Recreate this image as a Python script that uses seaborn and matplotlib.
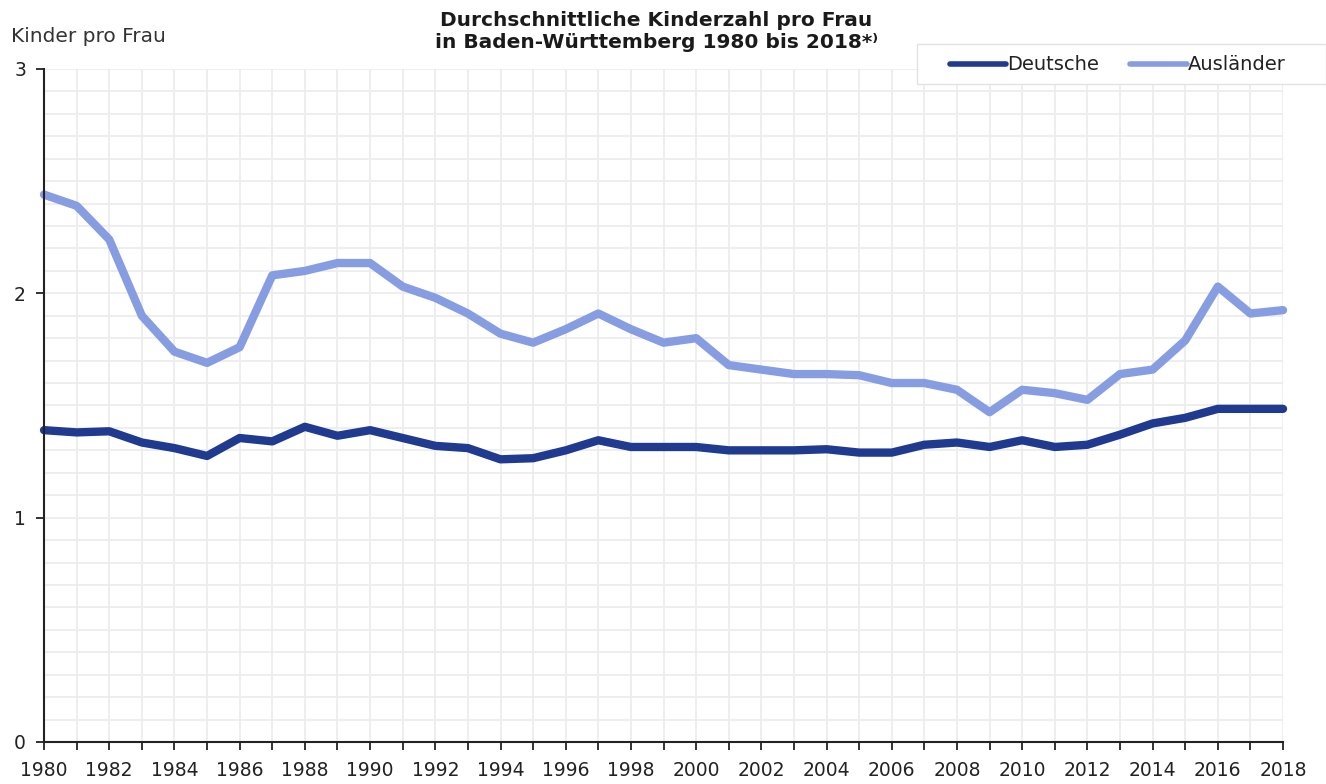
import numpy as np
import pandas as pd
import matplotlib
matplotlib.use("Agg")
import matplotlib.pyplot as plt
from matplotlib.lines import Line2D
from matplotlib.patches import Rectangle
import seaborn as sns

years = list(range(1980, 2019))
deutsche = [1.39, 1.38, 1.385, 1.335, 1.31, 1.275, 1.355, 1.34, 1.405, 1.365,
            1.39, 1.355, 1.32, 1.31, 1.26, 1.265, 1.30, 1.345, 1.315, 1.315,
            1.315, 1.30, 1.30, 1.30, 1.305, 1.29, 1.29, 1.325, 1.335, 1.315,
            1.345, 1.315, 1.325, 1.37, 1.42, 1.445, 1.485, 1.485, 1.485]
auslaender = [2.44, 2.39, 2.24, 1.90, 1.74, 1.69, 1.76, 2.08, 2.10, 2.135,
              2.135, 2.03, 1.98, 1.91, 1.82, 1.78, 1.84, 1.91, 1.84, 1.78,
              1.80, 1.68, 1.66, 1.64, 1.64, 1.635, 1.60, 1.60, 1.57, 1.47,
              1.57, 1.555, 1.525, 1.64, 1.66, 1.79, 2.03, 1.91, 1.925]
series_names = ["Deutsche", "Ausländer"]
colors = ["#1f3a8f", "#879de2"]
tick_years = list(range(1980, 2019, 2))
title_lines = ["Durchschnittliche Kinderzahl pro Frau",
               "in Baden-Württemberg 1980 bis 2018*⁾"]
ylabel = "Kinder pro Frau"

df = pd.DataFrame({
    "Jahr": years * 2,
    "Wert": deutsche + auslaender,
    "Gruppe": [series_names[0]] * len(years) + [series_names[1]] * len(years),
})

sns.set_theme(style="white")
plt.rcParams["font.family"] = ["DejaVu Sans"]

fig = plt.figure(figsize=(13.26, 7.84), dpi=100)
ax = fig.add_axes([0.0332, 0.0536, 0.9344, 0.8584])

sns.lineplot(data=df, x="Jahr", y="Wert", hue="Gruppe", palette=colors,
             hue_order=series_names, linewidth=6.0, ax=ax, legend=False,
             solid_joinstyle="round", solid_capstyle="round")

ax.set_xlim(1980, 2018)
ax.set_ylim(0, 3)
ax.set_xticks(tick_years)
ax.set_xticks(years, minor=True)
ax.set_yticks([0, 1, 2, 3])
ax.set_yticks(np.arange(0, 3.01, 0.1), minor=True)
ax.set_xticklabels([str(y) for y in tick_years], fontsize=13.5, color="#222222")
ax.set_yticklabels(["0", "1", "2", "3"], fontsize=13.5, color="#222222")
ax.grid(which="both", color="#ededed", linewidth=1.3)
ax.set_axisbelow(True)
ax.tick_params(axis="x", which="both", direction="out", length=6, width=1.3,
               color="#222222", bottom=True, pad=8)
ax.tick_params(axis="y", which="major", direction="out", length=6, width=1.3,
               color="#222222", left=True, pad=7)
ax.tick_params(axis="y", which="minor", length=0)
for s in ["top", "right"]:
    ax.spines[s].set_visible(False)
for s in ["left", "bottom"]:
    ax.spines[s].set_color("#222222")
    ax.spines[s].set_linewidth(1.5)
ax.set_xlabel("")
ax.set_ylabel("")
for line in ax.lines:
    line.set_clip_on(False)

fig.text(0.495, 1 - 20 / 784, title_lines[0], ha="center", va="center",
         fontsize=14.5, fontweight="bold", color="#1a1a1a")
fig.text(0.495, 1 - 43 / 784, title_lines[1], ha="center", va="center",
         fontsize=14.5, fontweight="bold", color="#1a1a1a")
fig.text(0.008, 1 - 36 / 784, ylabel, ha="left", va="center", fontsize=14.5,
         color="#333333")

# legend box
fig.patches.append(Rectangle((917 / 1326, 1 - 84 / 784), (1326 - 917) / 1326,
                             40 / 784, transform=fig.transFigure,
                             facecolor="white", edgecolor="#e2e2e2",
                             linewidth=1.0, zorder=5))
handles = [Line2D([0], [0], color=c, linewidth=4.0, solid_capstyle="round")
           for c in colors]
leg = fig.legend(handles, series_names, loc="center left",
                 bbox_to_anchor=(950 / 1326, 1 - 65 / 784), ncol=2, fontsize=14,
                 frameon=False, handlelength=2.9,
                 handletextpad=0.05, columnspacing=1.6, borderpad=0,
                 borderaxespad=0)
leg.set_zorder(6)
for t in leg.get_texts():
    t.set_color("#222222")

fig.savefig("out.png", dpi=100)
